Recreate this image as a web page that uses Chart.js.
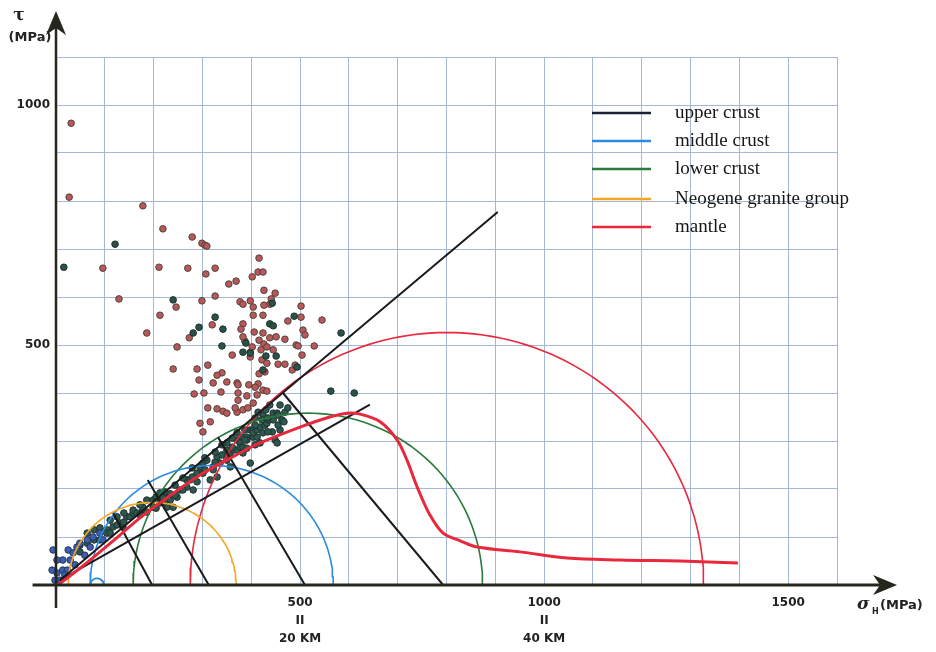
<!DOCTYPE html>
<html lang="en">
<head>
    <meta charset="UTF-8">
    <title>Mohr circles</title>
    <script src="https://cdn.jsdelivr.net/npm/chart.js@4.4.0/dist/chart.umd.min.js"></script>
    <style>
        body { margin: 0; background: #fff; }
        #wrap { width: 936px; height: 652px; }
    </style>
</head>
<body>
<div id="wrap"><canvas id="myChart"></canvas></div>
<script>
    // ---- data (MPa) ----
    const legendLabels = ['upper crust', 'middle crust', 'lower crust', 'Neogene granite group', 'mantle'];
    const legendColors = ['#1c2233', '#2b8be0', '#2a7a3a', '#f5a623', '#e8283c'];
    const xTickLabels = { 500: ['500', 'II', '20 KM'], 1000: ['1000', 'II', '40 KM'], 1500: ['1500'] };
    const yTickLabels = [500, 1000];

    const redSamples = [[31,962],[27,808],[178,790],[219,742],[279,725],[299,712],[305,708],[309,706],[96,660],[211,662],
        [270,660],[307,648],[326,660],[129,596],[299,592],[326,602],[354,627],[369,633],[416,681],[402,642],[414,652],
        [424,652],[426,614],[213,562],[186,525],[377,590],[383,585],[398,592],[404,579],[404,562],[424,562],[320,542],
        [383,544],[406,527],[424,525],[449,608],[246,579],[441,596],[438,585],[426,583],[502,581],[475,550],[502,558],
        [545,552],[379,533],[273,515],[387,508],[383,517],[438,515],[451,517],[469,512],[416,510],[426,502],[506,531],
        [510,521],[248,496],[402,496],[398,485],[420,490],[432,496],[445,490],[492,500],[496,498],[529,498],[361,479],
        [398,475],[504,479],[455,460],[469,460],[422,469],[432,462],[484,448],[490,458],[240,450],[289,450],[311,458],
        [340,442],[330,437],[416,440],[428,444],[293,427],[322,421],[371,421],[373,417],[395,417],[414,419],[424,406],
        [432,404],[408,412],[283,398],[303,400],[338,402],[391,394],[412,396],[350,423],[373,400],[311,369],[330,367],
        [342,362],[350,358],[373,385],[371,360],[383,365],[393,369],[404,379],[295,337],[316,340],[301,319],[367,369]];

    const darkSamples = [[16,662],[121,710],[240,594],[326,558],[342,533],[293,537],[281,525],[488,560],[443,587],
        [438,544],[445,540],[340,498],[383,485],[451,477],[430,477],[494,454],[563,404],[611,400],[584,525],[389,504],
        [424,448],[398,483]];

    const bandSamples = [[104,115],[117,121],[104,108],[131,129],[137,121],[145,142],[152,142],[158,150],[158,156],
        [166,150],[178,156],[178,162],[199,162],[199,177],[213,171],[213,192],[219,183],[232,183],[227,162],[234,177],
        [234,190],[240,162],[248,183],[254,198],[268,204],[268,219],[275,219],[281,198],[289,215],[289,233],[295,246],
        [301,233],[301,254],[309,260],[316,219],[322,246],[322,240],[330,267],[330,225],[336,254],[350,260],[350,281],
        [350,296],[350,267],[357,275],[357,246],[363,281],[371,281],[371,317],[371,302],[377,302],[377,296],[377,287],
        [383,287],[383,308],[383,275],[391,308],[391,302],[391,285],[398,323],[398,254],[404,308],[404,323],[404,317],
        [412,323],[412,308],[418,296],[418,329],[424,317],[424,354],[428,333],[432,337],[436,344],[443,319],[445,344],
        [445,358],[449,302],[453,358],[453,296],[459,323],[463,344],[469,360],[430,365],[414,360],[438,375],[422,344],
        [459,375],[475,369],[408,348],
        [49,83],[49,69],[64,87],[64,108],[78,94],[78,115],[90,119],[90,94],[111,135],[111,108],[125,142],[125,125],
        [139,150],[139,131],[172,167],[172,146],[186,177],[186,152],[205,183],[205,160],[223,194],[223,173],[244,208],
        [244,187],[260,223],[260,198],[279,225],[279,244],[305,240],[305,265],[326,256],[326,277],[340,271],[340,292],
        [361,287],[361,306],[387,302],[387,323],[408,333],[408,292],[434,348],[434,319],[455,354],[455,333],[467,340]];

    const originSamples = [[-47,58],[-37,52],[-39,42],[-27,56],[-18,37],[-8,31],[-12,17],[2,25],[8,10],[14,31],[14,52],
        [25,73],[29,52],[35,67],[43,79],[49,87],[64,94],[70,79],[76,100],[90,108],[96,94],[2,52],[-6,73],[23,31],
        [-23,73],[-33,31],[-2,10],[18,21],[39,42],[59,62]];

    const mantleCurve = [[4,0],[49,35],[90,69],[131,104],[172,140],[213,171],[295,229],[377,275],[418,296],[500,329],
        [561,350],[596,358],[623,356],[664,340],[699,302],[719,260],[740,204],[766,146],[793,108],[828,92],[863,79],
        [951,69],[1047,56],[1156,52],[1278,50],[1397,46]];

    const envelopeUpper = [[8,10],[905,777]];
    const envelopeLower = [[8,10],[643,376]];

    // Mohr circles: centre, radius, group colour
    const circleCenters = [197, 319, 516, 801, 84];
    const circleRadii = [172, 249, 358, 526, 14];
    const circleColors = ['#f5a623', '#2b8be0', '#2a7a3a', '#e8283c', '#2b8be0'];

    // radius lines: centre on the axis -> tangent point
    const radiusFoot = [197, 313, 510, 793];
    const radiusTop = [[117,150],[188,219],[332,308],[465,400]];

    const toXY = arr => arr.map(p => ({ x: p[0], y: p[1] }));
    function arcPoints(c, r) {
        const pts = [];
        for (let a = 0; a <= 180; a += 2) {
            const t = a * Math.PI / 180;
            pts.push({ x: c + r * Math.cos(t), y: r * Math.sin(t) });
        }
        return pts;
    }

    const datasets = [];
    circleCenters.forEach(function (c, i) {
        datasets.push({ data: arcPoints(c, circleRadii[i]), showLine: true, borderColor: circleColors[i],
            borderWidth: 1.6, pointRadius: 0, order: 3, clip: false });
    });
    radiusFoot.forEach(function (f, i) {
        datasets.push({ data: [{ x: f, y: 0 }, { x: radiusTop[i][0], y: radiusTop[i][1] }], showLine: true,
            borderColor: '#1a1a1a', borderWidth: 2, pointRadius: 0, order: 2 });
    });
    datasets.push({ data: toXY(envelopeUpper), showLine: true, borderColor: '#1a1a1a', borderWidth: 2, pointRadius: 0, order: 2 });
    datasets.push({ data: toXY(envelopeLower), showLine: true, borderColor: '#1a1a1a', borderWidth: 2, pointRadius: 0, order: 2 });
    datasets.push({ data: toXY(mantleCurve), showLine: true, borderColor: '#e8283c', borderWidth: 3, tension: 0.35,
        pointRadius: 0, order: 1 });

    const dot = (data, fill, edge) => ({ data: toXY(data), pointRadius: 3.3, pointBackgroundColor: fill,
        pointBorderColor: edge, pointBorderWidth: 1, order: 5, clip: false });
    datasets.push(dot(originSamples, '#3d5fb0', '#22335e'));
    datasets.push(dot(bandSamples, '#2f574f', '#1d332f'));
    datasets.push(dot(darkSamples, '#2c5148', '#1b302b'));
    datasets.push(dot(redSamples, '#b9575c', '#4f4538'));

    const decorations = {
        id: 'decorations',
        afterDatasetsDraw(chart) {
            const { ctx, scales: { x, y } } = chart;
            const x0 = x.getPixelForValue(0), y0 = y.getPixelForValue(0);
            const xEnd = x.getPixelForValue(1723), yEnd = y.getPixelForValue(1196);
            ctx.save();
            ctx.strokeStyle = '#26261d';
            ctx.fillStyle = '#26261d';
            ctx.lineWidth = 3;
            ctx.beginPath();
            ctx.moveTo(x.getPixelForValue(-48), y0);
            ctx.lineTo(xEnd - 10, y0);
            ctx.stroke();
            ctx.lineWidth = 2.5;
            ctx.beginPath();
            ctx.moveTo(x0, y.getPixelForValue(-48));
            ctx.lineTo(x0, yEnd + 10);
            ctx.stroke();
            // arrow heads
            ctx.beginPath();
            ctx.moveTo(xEnd, y0);
            ctx.lineTo(xEnd - 24, y0 - 10);
            ctx.lineTo(xEnd - 17, y0);
            ctx.lineTo(xEnd - 24, y0 + 10);
            ctx.closePath();
            ctx.fill();
            ctx.beginPath();
            ctx.moveTo(x0, yEnd);
            ctx.lineTo(x0 - 10, yEnd + 24);
            ctx.lineTo(x0, yEnd + 17);
            ctx.lineTo(x0 + 10, yEnd + 24);
            ctx.closePath();
            ctx.fill();

            // axis titles
            ctx.fillStyle = '#222';
            ctx.textBaseline = 'middle';
            ctx.textAlign = 'center';
            ctx.font = 'bold 17px "DejaVu Serif"';
            ctx.fillText('τ', 19, 16);
            ctx.font = 'bold 13px "DejaVu Sans"';
            ctx.fillText('(MPa)', 30, 38);
            ctx.textAlign = 'left';
            ctx.font = 'italic bold 17px "DejaVu Serif"';
            ctx.fillText('σ', 857, 605);
            ctx.font = 'bold 8px "DejaVu Sans"';
            ctx.fillText('H', 872, 612);
            ctx.font = 'bold 13px "DejaVu Sans"';
            ctx.fillText('(MPa)', 880, 606);

            // legend
            const rows = [113, 141, 169, 199, 227];
            ctx.font = '19px "Liberation Serif"';
            legendLabels.forEach(function (label, i) {
                ctx.strokeStyle = legendColors[i];
                ctx.lineWidth = 2.5;
                ctx.beginPath();
                ctx.moveTo(592, rows[i]);
                ctx.lineTo(651, rows[i]);
                ctx.stroke();
                ctx.fillStyle = '#161616';
                ctx.fillText(label, 675, rows[i]);
            });
            ctx.restore();
        }
    };

    const gridColor = '#a3b8d8';
    const ctx = document.getElementById('myChart').getContext('2d');
    const myChart = new Chart(ctx, {
        type: 'scatter',
        data: { datasets: datasets },
        options: {
            responsive: true,
            maintainAspectRatio: false,
            animation: false,
            layout: { padding: { top: 57, right: 99, left: 0, bottom: 0 } },
            plugins: { legend: { display: false }, tooltip: { enabled: false } },
            scales: {
                x: {
                    type: 'linear', min: 0, max: 1600,
                    afterFit: function (s) { s.height = 67; },
                    border: { display: false },
                    grid: { color: gridColor, lineWidth: 1, drawTicks: false },
                    ticks: {
                        stepSize: 100, autoSkip: false, maxRotation: 0, padding: 9,
                        color: '#222', font: { family: 'DejaVu Sans', size: 12, weight: 'bold', lineHeight: 1.5 },
                        callback: function (v) { return xTickLabels[v] || ''; }
                    }
                },
                y: {
                    type: 'linear', min: 0, max: 1100,
                    afterFit: function (s) { s.width = 56; },
                    border: { display: false },
                    grid: { color: gridColor, lineWidth: 1, drawTicks: false },
                    ticks: {
                        stepSize: 100, autoSkip: false, padding: 6,
                        color: '#222', font: { family: 'DejaVu Sans', size: 12, weight: 'bold' },
                        callback: function (v) { return yTickLabels.includes(v) ? String(v) : ''; }
                    }
                }
            }
        },
        plugins: [decorations]
    });
</script>
</body>
</html>
